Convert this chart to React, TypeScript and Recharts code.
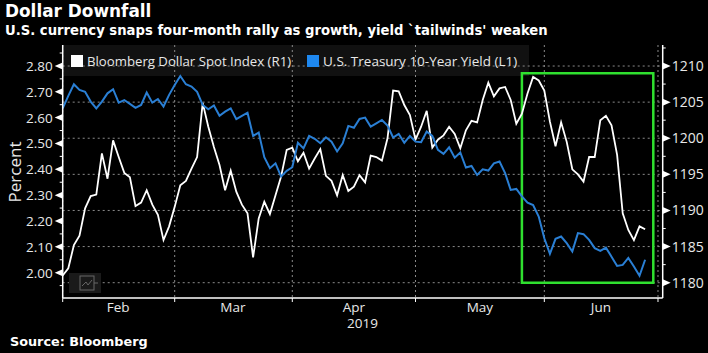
import { ComposedChart, Line, ReferenceArea, CartesianGrid, XAxis, YAxis } from "recharts";

const dollarIndex = [
  1181, 1182, 1185.2, 1186.5, 1190.3, 1192, 1192.2, 1197.9, 1194.4, 1199.7, 1197.4, 1195.2, 1194.6, 1190.6, 1191.1,
  1192.8, 1190.8, 1189.4, 1185.9, 1187.8, 1190.5, 1193.5, 1194.1, 1195.8, 1197.4, 1204.9, 1201.6, 1198.8, 1196.3,
  1192.8, 1195.5, 1192.6, 1190.8, 1189.6, 1183.5, 1188.9, 1191.2, 1189.5, 1192.1, 1194.7, 1198.4, 1198.7, 1196.8,
  1198, 1195.8, 1197.2, 1198.5, 1194.8, 1194.1, 1192.1, 1194.9, 1192.7, 1193.3, 1194.9, 1193.9, 1197.6, 1197.4,
  1196.9, 1200, 1206.6, 1206.5, 1204.6, 1203.2, 1199.8, 1201.6, 1203.8, 1198.7, 1199.8, 1200.4, 1201.6, 1200.6,
  1198.6, 1201.1, 1202.4, 1202.2, 1205.3, 1207.7, 1205.8, 1206.9, 1207.1, 1205.3, 1202, 1203.4, 1206.2, 1208.5,
  1208, 1206.6, 1202.3, 1198.9, 1202.2, 1199.5, 1195.7, 1195, 1194, 1197.4, 1197.4, 1202.5, 1203.1, 1201.8, 1197.7,
  1189.6, 1187.3, 1185.9, 1187.8, 1187.4,
];

const treasuryYield = [
  2.636, 2.684, 2.729, 2.707, 2.7, 2.662, 2.636, 2.662, 2.694, 2.71, 2.658, 2.668, 2.653, 2.638, 2.649, 2.697, 2.658,
  2.672, 2.643, 2.688, 2.726, 2.761, 2.729, 2.72, 2.7, 2.649, 2.632, 2.647, 2.607, 2.623, 2.636, 2.594, 2.607, 2.619,
  2.529, 2.542, 2.447, 2.404, 2.423, 2.372, 2.394, 2.408, 2.503, 2.481, 2.529, 2.518, 2.501, 2.524, 2.507, 2.469,
  2.501, 2.568, 2.561, 2.595, 2.6, 2.565, 2.578, 2.591, 2.569, 2.523, 2.537, 2.503, 2.529, 2.507, 2.505, 2.546, 2.529,
  2.475, 2.46, 2.485, 2.445, 2.465, 2.407, 2.413, 2.378, 2.4, 2.395, 2.423, 2.43, 2.385, 2.32, 2.324, 2.295, 2.271,
  2.262, 2.217, 2.133, 2.073, 2.131, 2.14, 2.114, 2.082, 2.153, 2.149, 2.127, 2.095, 2.084, 2.097, 2.062, 2.026, 2.03,
  2.057, 2.024, 1.988, 2.05,
];

const months = ["Feb", "Mar", "Apr", "May", "Jun"];
const monthCenters = [9.9, 30.4, 52, 74.5, 96.1];
const monthStarts = [0, 20, 41, 63, 86, 106.3];

const leftLabels = [2.0, 2.1, 2.2, 2.3, 2.4, 2.5, 2.6, 2.7, 2.8];
const leftMinor = [1.95, 2.05, 2.15, 2.25, 2.35, 2.45, 2.55, 2.65, 2.75, 2.85];
const rightLabels = [1180, 1185, 1190, 1195, 1200, 1205, 1210];
const rightMinor = [1182.5, 1187.5, 1192.5, 1197.5, 1202.5, 1207.5, 1212.5];

const rows = dollarIndex.map((v, i) => ({ i, dollar: v, yield10: treasuryYield[i] }));

const FONT = '"Open Sans", "Noto Sans", sans-serif';
const BOLD = '"DejaVu Sans", sans-serif';
const TEXT = "#e8e8e8";

const LeftTick = ({ x, y, payload }: any) => {
  if (!leftLabels.includes(payload.value)) {
    return <line x1={x} x2={x - 3} y1={y} y2={y} stroke="#fff" />;
  }
  return (
    <g>
      <polygon points={`${x},${y - 3.5} ${x},${y + 3.5} ${x - 8},${y}`} fill="#fff" />
      <text x={x - 10} y={y + 5} textAnchor="end" fontSize={13.5} fontFamily={FONT} fill={TEXT}>
        {payload.value.toFixed(2)}
      </text>
    </g>
  );
};

const RightTick = ({ x, y, payload }: any) => {
  if (!rightLabels.includes(payload.value)) {
    return <line x1={x} x2={x + 3} y1={y} y2={y} stroke="#fff" />;
  }
  return (
    <g>
      <polygon points={`${x},${y - 3.5} ${x},${y + 3.5} ${x + 8},${y}`} fill="#fff" />
      <text x={x + 9} y={y + 5} fontSize={14} fontFamily={FONT} fill={TEXT}>
        {payload.value}
      </text>
    </g>
  );
};

const MonthTick = ({ x, y, payload }: any) => {
  const m = monthCenters.indexOf(payload.value);
  if (m < 0) return <line x1={x} x2={x} y1={y} y2={y + 4} stroke="#fff" />;
  return (
    <text x={x} y={y + 14} textAnchor="middle" fontSize={13.5} fontFamily={FONT} fill={TEXT}>
      {months[m]}
    </text>
  );
};

const label = (style: any, text: string) => (
  <div style={{ position: "absolute", whiteSpace: "nowrap", lineHeight: 1, ...style }}>{text}</div>
);

export default function App() {
  return (
    <div style={{ position: "absolute", left: 0, top: 0, width: 708, height: 353, background: "#000", overflow: "hidden" }}>
      <div style={{ position: "absolute", left: 63, top: 45, width: 466, height: 31, background: "#111" }} />
      <ComposedChart
        width={708}
        height={353}
        data={rows}
        margin={{ top: 45, right: 0, bottom: 0, left: 0 }}
        style={{ position: "absolute", left: 0, top: 0 }}
      >
        <CartesianGrid
          xAxisId="x"
          yAxisId="right"
          stroke="#8a8a8a"
          strokeDasharray="2 3"
          horizontalValues={rightLabels}
          verticalValues={monthStarts}
        />
        <XAxis
          xAxisId="x"
          dataKey="i"
          type="number"
          domain={[0, 107.14]}
          ticks={[...monthStarts, ...monthCenters]}
          interval={0}
          height={55}
          tickLine={false}
          tick={MonthTick}
          tickMargin={0}
          tickSize={0}
          stroke="#fff"
          strokeWidth={1.5}
        />
        <YAxis
          yAxisId="left"
          width={62.7}
          domain={[1.902, 2.881]}
          allowDataOverflow
          ticks={[...leftLabels, ...leftMinor]}
          interval={0}
          tickLine={false}
          tick={LeftTick}
          tickMargin={0}
          tickSize={0}
          stroke="#fff"
          strokeWidth={1.5}
        />
        <YAxis
          yAxisId="right"
          orientation="right"
          width={45.3}
          domain={[1177.88, 1212.91]}
          allowDataOverflow
          ticks={[...rightLabels, ...rightMinor]}
          interval={0}
          tickLine={false}
          tick={RightTick}
          tickMargin={0}
          tickSize={0}
          stroke="#fff"
          strokeWidth={1.5}
        />
        <ReferenceArea
          xAxisId="x"
          yAxisId="right"
          x1={82}
          x2={105.46}
          y1={1180}
          y2={1209}
          fill="none"
          stroke="#2fe02f"
          strokeWidth={2.5}
        />
        <Line xAxisId="x" yAxisId="right" dataKey="dollar" stroke="#fff" strokeWidth={1.8} dot={false} isAnimationActive={false} />
        <Line xAxisId="x" yAxisId="left" dataKey="yield10" stroke="#2a7fd4" strokeWidth={2} dot={false} isAnimationActive={false} />
      </ComposedChart>

      {label({ left: 5, top: 3, fontFamily: BOLD, fontWeight: 700, fontSize: 16.9, color: "#fff" }, "Dollar Downfall")}
      {label(
        { left: 5, top: 24, fontFamily: BOLD, fontWeight: 700, fontSize: 13.2, color: "#fff" },
        "U.S. currency snaps four-month rally as growth, yield `tailwinds' weaken"
      )}
      <div style={{ position: "absolute", left: 71, top: 55, width: 12, height: 12, background: "#fff" }} />
      {label({ left: 87, top: 55, fontFamily: FONT, fontSize: 13.2, color: TEXT }, "Bloomberg Dollar Spot Index (R1)")}
      <div style={{ position: "absolute", left: 307, top: 55, width: 12, height: 12, background: "#1e88f0" }} />
      {label({ left: 323, top: 55, fontFamily: FONT, fontSize: 13.5, color: TEXT }, "U.S. Treasury 10-Year Yield (L1)")}
      {label(
        { left: 14, top: 172, fontFamily: FONT, fontSize: 17, color: TEXT, transform: "translate(-50%, -50%) rotate(-90deg)" },
        "Percent"
      )}
      {label({ left: 347, top: 317, fontFamily: FONT, fontSize: 13.5, color: TEXT }, "2019")}
      {label({ left: 10, top: 336, fontFamily: BOLD, fontWeight: 700, fontSize: 12.8, color: "#fff" }, "Source: Bloomberg")}
      <svg width={32} height={20} style={{ position: "absolute", left: 69, top: 273 }}>
        <rect x={0} y={0} width={32} height={20} fill="#1a1a1a" />
        <rect x={11} y={3} width={14} height={14} fill="none" stroke="#666" />
        <path d="M13 13 L17 9 L19 12 L23 7 M25 10 H29" fill="none" stroke="#666" />
      </svg>
    </div>
  );
}
